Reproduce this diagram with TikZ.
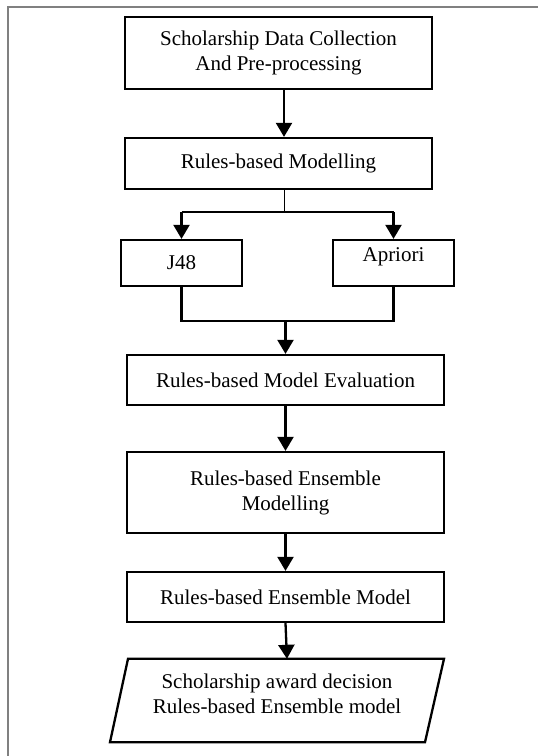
\documentclass[tikz,border=0pt]{standalone}
\usepackage{fontspec}
\setmainfont{Liberation Serif}
\usetikzlibrary{arrows.meta}
\begin{document}
\begin{tikzpicture}[x=1pt,y=-1pt,
  box/.style={draw=black,line width=2.3pt,rectangle,inner sep=0pt,align=center,
    font=\fontsize{21}{25}\selectfont},
  lbl/.style={inner sep=0pt,align=center,font=\fontsize{21}{25}\selectfont},
  arr/.style={line width=2.3pt,-{Triangle[length=14pt,width=16pt]}},
  thk/.style={line width=2.3pt},
  frame/.style={draw=black!50,line width=1.3pt}]
\useasboundingbox (0,0) rectangle (538,756);
\draw[frame] (8,756) -- (8,7) -- (538,7);

\node[box,minimum width=307,minimum height=72] (b1) at (278.5,53)
  {Scholarship Data Collection\\And Pre-processing};
\node[box,minimum width=307,minimum height=51] (b2) at (278.5,163.5)
  {Rules-based Modelling};
\node[box,minimum width=121,minimum height=46] (j48) at (181.5,263) {J48};
\node[box,minimum width=121,minimum height=46,text depth=16pt] (apr) at (393.5,263) {Apriori};
\node[box,minimum width=317,minimum height=50] (ev) at (285.5,380)
  {Rules-based Model Evaluation};
\node[box,minimum width=317,minimum height=81] (em) at (285.5,492.5)
  {Rules-based Ensemble\\Modelling};
\node[box,minimum width=317,minimum height=50] (m) at (285.5,597)
  {Rules-based Ensemble Model};
\node[lbl,minimum width=316,minimum height=83,text depth=14pt] (dec) at (277,700.5)
  {Scholarship award decision\\Rules-based Ensemble model};
\draw[line width=2.3pt,line join=miter]
  ([xshift=-149pt]dec.north) -- ([xshift=167pt]dec.north) --
  ([xshift=148pt]dec.south) -- ([xshift=-167pt]dec.south) -- cycle;

% connectors
\draw[arr] ([xshift=5.5pt]b1.south) -- ([xshift=5.5pt]b2.north);
\coordinate (split) at ([xshift=5.5pt,yshift=-22pt]b2.south);
\draw[line width=0.8pt] ([xshift=5.5pt]b2.south) -- (split);
\draw[thk] (split -| j48.north) -- (split -| apr.north);
\draw[arr] (split -| j48.north) -- (j48.north);
\draw[arr] (split -| apr.north) -- (apr.north);
\coordinate (merge) at ([yshift=-34pt]j48.south);
\draw[thk,line join=miter] (j48.south) -- (merge) -- (merge -| apr.south) -- (apr.south);
\draw[arr] (merge -| ev.north) -- (ev.north);
\draw[arr] (ev.south) -- (em.north);
\draw[arr] (em.south) -- (m.north);
\draw[arr] (m.south) -- ([xshift=10pt]dec.north);
\end{tikzpicture}
\end{document}
